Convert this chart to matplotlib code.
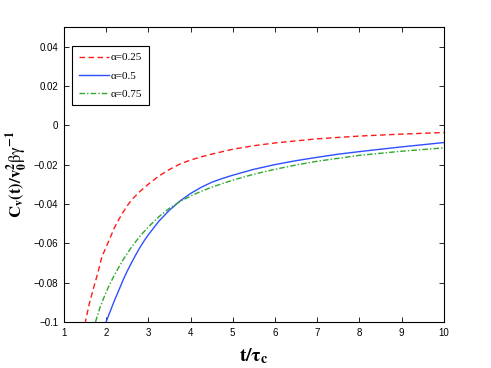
import numpy as np
import matplotlib
matplotlib.use('Agg')
import matplotlib.pyplot as plt

# values
t_a25 = [1.5, 1.6, 1.7, 1.8, 1.9, 2.0, 2.1, 2.2, 2.3, 2.4, 2.5, 2.6, 2.8, 3.0, 3.25, 3.5, 3.75,
         4.0, 4.25, 4.5, 5.0, 5.5, 6.0, 7.0, 8.0, 9.0, 10.0]
c_a25 = [-0.101, -0.091, -0.083, -0.0755, -0.067, -0.062, -0.057, -0.052, -0.048, -0.0443, -0.041,
         -0.038, -0.0337, -0.030, -0.0258, -0.0225, -0.0197, -0.0177, -0.0161, -0.0147, -0.0122,
         -0.0104, -0.009, -0.0069, -0.0055, -0.0045, -0.0037]

t_a50 = [2.0, 2.1, 2.2, 2.3, 2.4, 2.5, 2.6, 2.7, 2.8, 2.9, 3.0, 3.25, 3.5, 3.75, 4.0, 4.25, 4.5,
         4.75, 5.0, 5.5, 6.0, 6.5, 7.0, 7.5, 8.0, 9.0, 10.0]
c_a50 = [-0.100, -0.0945, -0.089, -0.084, -0.0788, -0.0742, -0.070, -0.066, -0.0622, -0.0588,
         -0.0557, -0.0488, -0.0432, -0.0385, -0.0347, -0.0316, -0.029, -0.0271, -0.0254, -0.0224,
         -0.0200, -0.018, -0.0163, -0.0147, -0.0134, -0.011, -0.0088]

t_a75 = [1.75, 1.85, 1.95, 2.05, 2.2, 2.4, 2.6, 2.8, 3.0, 3.25, 3.5, 3.75, 4.0, 4.25, 4.5, 5.0,
         5.5, 6.0, 6.5, 7.0, 8.0, 9.0, 10.0]
c_a75 = [-0.100, -0.093, -0.0875, -0.0825, -0.076, -0.0685, -0.062, -0.0565, -0.0517, -0.0465,
         -0.0422, -0.0388, -0.036, -0.0336, -0.0315, -0.0279, -0.0249, -0.0224, -0.0202, -0.0183,
         -0.0153, -0.0132, -0.0115]

labels = ['\u03b1=0.25', '\u03b1=0.5', '\u03b1=0.75']

xticks = [1, 2, 3, 4, 5, 6, 7, 8, 9, 10]
yticks = [-0.1, -0.08, -0.06, -0.04, -0.02, 0, 0.02, 0.04]
ytick_labels = ['\u22120.1', '\u22120.08', '\u22120.06', '\u22120.04', '\u22120.02', '0', '0.02', '0.04']

plt.rcParams['mathtext.fontset'] = 'stix'

fig = plt.figure(figsize=(4.91, 3.68), dpi=100)
ax = fig.add_axes([0.130, 0.125, 0.774, 0.802])

ax.plot(t_a25, c_a25, '--', color='#ff1a1a', lw=1.0, dashes=(4, 2.5), label=labels[0])
ax.plot(t_a50, c_a50, '-', color='#2f4fff', lw=1.0, label=labels[1])
ax.plot(t_a75, c_a75, '-.', color='#2ea82e', lw=1.0, dashes=(4, 1.5, 1, 1.5), label=labels[2])

ax.set_xlim(1, 10)
ax.set_ylim(-0.1, 0.05)
ax.set_xticks(xticks)
ax.set_yticks(yticks)
ax.set_yticklabels(ytick_labels)

ax.tick_params(direction='in', top=True, right=True, length=3.5, width=0.6,
               labelsize=7, pad=4)
for lab in ax.get_xticklabels() + ax.get_yticklabels():
    lab.set_family('Liberation Sans')
for s in ax.spines.values():
    s.set_linewidth(0.8)

ax.set_xlabel(r'$\mathbf{t/\tau_c}$', fontsize=14, labelpad=6)
ax.set_ylabel(r'$\mathbf{C_v(t)/v_0^2}\mathrm{\beta\gamma}^{\mathbf{-1}}$', fontsize=12)
ax.yaxis.set_label_coords(-0.09, 0.5)

leg = ax.legend(loc='upper left', bbox_to_anchor=(0.022, 0.935), fancybox=False,
                edgecolor='black', framealpha=1, handlelength=2.7, borderpad=0.6,
                labelspacing=0.75, handletextpad=0.2, borderaxespad=0,
                prop={'family': 'Liberation Serif', 'size': 8})
leg.get_frame().set_linewidth(0.8)

fig.savefig('out.png', dpi=100)
